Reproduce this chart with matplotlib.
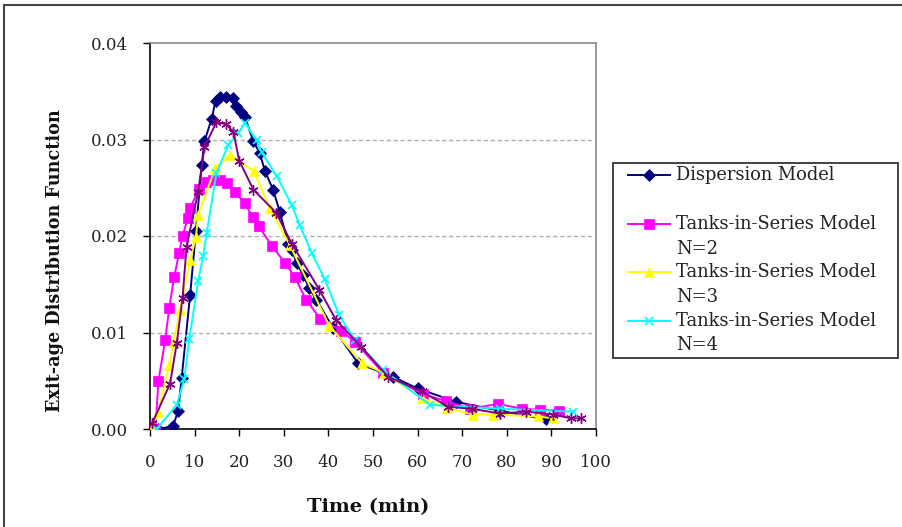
import matplotlib
matplotlib.use("Agg")
import matplotlib.pyplot as plt
from matplotlib.lines import Line2D
from matplotlib.patches import Rectangle
from matplotlib.ticker import FormatStrFormatter

# Dispersion model
t_disp = [1.8, 5.2, 6.3, 7.1, 9.0, 10.3, 11.6, 12.2, 13.8, 14.7, 15.6, 17.1, 18.6,
          19.2, 20.3, 21.3, 23.2, 24.6, 25.8, 27.6, 29.1, 31.0, 31.8, 32.9, 34.3,
          35.7, 37.3, 41.0, 46.7, 54.5, 60.0, 68.7, 78.3, 88.9]
e_disp = [0.0000, 0.0003, 0.0019, 0.0053, 0.0139, 0.0205, 0.0274, 0.0298, 0.0321,
          0.0340, 0.0344, 0.0344, 0.0343, 0.0335, 0.0328, 0.0323, 0.0298, 0.0286,
          0.0267, 0.0248, 0.0225, 0.0192, 0.0186, 0.0172, 0.0160, 0.0146, 0.0134,
          0.0105, 0.0068, 0.0054, 0.0042, 0.0028, 0.0019, 0.0010]

# Tanks-in-series, N=2
t_n2 = [1.2, 1.9, 3.4, 4.3, 5.4, 6.5, 7.3, 8.5, 9.0, 11.0, 12.6, 14.2, 15.7, 17.3,
        19.0, 21.2, 23.0, 24.4, 27.3, 30.3, 32.4, 35.0, 38.2, 42.8, 46.0, 52.3,
        61.3, 66.3, 71.7, 78.1, 83.3, 87.4, 91.8]
e_n2 = [0.0000, 0.0050, 0.0092, 0.0125, 0.0157, 0.0182, 0.0200, 0.0219, 0.0229,
        0.0249, 0.0256, 0.0258, 0.0258, 0.0255, 0.0246, 0.0234, 0.0220, 0.0210,
        0.0190, 0.0172, 0.0158, 0.0134, 0.0114, 0.0102, 0.0090, 0.0058, 0.0036,
        0.0029, 0.0021, 0.0026, 0.0021, 0.0020, 0.0019]

# Tanks-in-series, N=3
t_n3 = [0.5, 1.9, 4.3, 5.3, 6.7, 9.0, 10.3, 10.8, 14.6, 17.9, 23.3, 26.8, 31.3,
        40.2, 47.6, 52.5, 60.9, 66.5, 72.5, 77.0, 87.0, 90.4]
e_n3 = [0.0000, 0.0018, 0.0066, 0.0090, 0.0123, 0.0175, 0.0199, 0.0222, 0.0270,
        0.0284, 0.0267, 0.0229, 0.0191, 0.0107, 0.0068, 0.0058, 0.0032, 0.0022,
        0.0015, 0.0015, 0.0013, 0.0011]

# Tanks-in-series, N=4
t_n4 = [1.5, 6.0, 7.7, 8.8, 10.8, 11.9, 12.7, 14.9, 17.5, 19.8, 21.3, 23.9, 25.0,
        28.4, 31.8, 33.6, 36.3, 39.2, 42.4, 46.0, 52.3, 62.8, 78.5, 94.9]
e_n4 = [0.0000, 0.0025, 0.0052, 0.0093, 0.0153, 0.0179, 0.0203, 0.0265, 0.0294,
        0.0307, 0.0317, 0.0299, 0.0287, 0.0262, 0.0232, 0.0211, 0.0182, 0.0155,
        0.0118, 0.0092, 0.0061, 0.0025, 0.0021, 0.0018]

# Measured tracer response
t_exp = [0.5, 4.5, 6.0, 7.3, 8.2, 10.8, 12.2, 14.9, 17.0, 18.7, 20.0, 23.2, 28.3,
         31.8, 38.0, 41.7, 47.4, 53.4, 60.9, 66.9, 72.1, 78.5, 84.4, 90.4, 94.5, 96.7]
e_exp = [0.0006, 0.0047, 0.0089, 0.0136, 0.0189, 0.0246, 0.0292, 0.0318, 0.0316,
         0.0308, 0.0278, 0.0248, 0.0224, 0.0192, 0.0144, 0.0113, 0.0085, 0.0054,
         0.0039, 0.0023, 0.0021, 0.0016, 0.0018, 0.0015, 0.0011, 0.0011]

x_ticks = [0, 10, 20, 30, 40, 50, 60, 70, 80, 90, 100]
y_ticks = [0.00, 0.01, 0.02, 0.03, 0.04]

series = [
    (t_disp, e_disp, "Dispersion Model", "#000080", "D", 6.0, 0.0),
    (t_n2, e_n2, "Tanks-in-Series Model\nN=2", "#FF00FF", "s", 7.0, 0.0),
    (t_n3, e_n3, "Tanks-in-Series Model\nN=3", "#FFFF00", "^", 6.5, 0.0),
    (t_n4, e_n4, "Tanks-in-Series Model\nN=4", "#00FFFF", "x", 6.0, 1.2),
    (t_exp, e_exp, None, "#800080", (6, 2, 0), 7.5, 1.0),
]

W, H = 902, 527
fig = plt.figure(figsize=(W / 100, H / 100), dpi=100)
fig.patch.set_facecolor("white")

serif = "DejaVu Serif"
tcol = "#222222"

ax = fig.add_axes([150 / W, 1 - 429 / H, (596 - 150) / W, (429 - 43) / H])

for t, e, lab, col, mk, ms, mew in series:
    ax.plot(t, e, color=col, lw=1.4, marker=mk, markersize=ms,
            markerfacecolor=col, markeredgecolor=col,
            markeredgewidth=mew if mew else 0.5, zorder=3)

ax.set_xlim(0, 100)
ax.set_ylim(0, 0.04)
ax.set_xticks(x_ticks)
ax.set_yticks(y_ticks)
ax.yaxis.set_major_formatter(FormatStrFormatter("%.2f"))

for yv in y_ticks[1:-1]:
    ax.axhline(yv, color="#b0b0b0", lw=1.0, ls=(0, (3, 2)), zorder=1)

for side in ("left", "bottom"):
    ax.spines[side].set_color("black")
    ax.spines[side].set_linewidth(1.2)
for side in ("top", "right"):
    ax.spines[side].set_color("#8a8a8a")
    ax.spines[side].set_linewidth(1.2)

ax.tick_params(axis="x", direction="out", length=5, width=1.0, pad=13,
               labelsize=12, labelcolor=tcol)
ax.tick_params(axis="y", direction="out", length=5, width=1.0, pad=11,
               labelsize=12, labelcolor=tcol)
for lbl in ax.get_xticklabels() + ax.get_yticklabels():
    lbl.set_family(serif)

ax.set_xlabel("Time (min)", family=serif, fontsize=14, fontweight="bold",
              color="#111111", va="center")
ax.xaxis.set_label_coords((368 - 150) / 446, (429 - 507) / 386)
ax.set_ylabel("Exit-age Distribution Function", family=serif, fontsize=12.7,
              fontweight="bold", color="#111111", va="center")
ax.yaxis.set_label_coords((55 - 150) / 446, (429 - 261) / 386)

# Legend panel beside the plot area
def fx(px):
    return px / W

def fy(py):
    return 1 - py / H

fig.add_artist(Rectangle((fx(613), fy(358)), fx(898) - fx(613), fy(163) - fy(358),
                         transform=fig.transFigure, fill=False, ec="#222222", lw=1.2))

rows = [175, 224, 272, 321]
for (t, e, lab, col, mk, ms, mew), ry in zip(series[:4], rows):
    fig.add_artist(Line2D([fx(628), fx(670)], [fy(ry), fy(ry)],
                          transform=fig.transFigure, color=col, lw=1.4))
    fig.add_artist(Line2D([fx(649)], [fy(ry)], transform=fig.transFigure,
                          marker=mk, markersize=ms, color=col,
                          markeredgewidth=mew if mew else 0.5))
    first, *rest = lab.split("\n")
    fig.text(fx(676), fy(ry), first, family=serif, fontsize=12.9, color=tcol,
             ha="left", va="center")
    for line in rest:
        fig.text(fx(676), fy(ry + 24.5), line, family=serif, fontsize=12.9,
                 color=tcol, ha="left", va="center")

# Chart-area frame
fig.add_artist(Rectangle((fx(4), -0.05), 1.2, fy(5) + 0.05,
                         transform=fig.transFigure, fill=False, ec="#444444", lw=1.5))

fig.savefig("out.png", dpi=100, facecolor="white")
